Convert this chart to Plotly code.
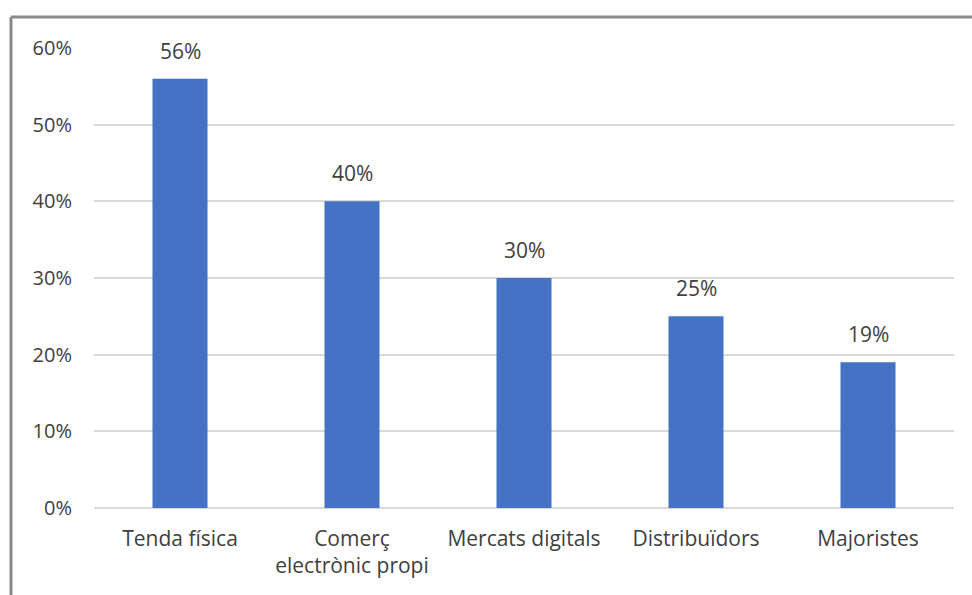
import plotly.graph_objects as go

categories = ["Tenda física", "Comerç<br>electrònic propi", "Mercats digitals", "Distribuïdors", "Majoristes"]
values = [0.56, 0.40, 0.30, 0.25, 0.19]
y_ticks = [0, 0.1, 0.2, 0.3, 0.4, 0.5, 0.6]
y_tick_labels = ["0%", "10%", "20%", "30%", "40%", "50%", "60%"]

FONT = "Open Sans"
TEXT = "#404040"

W, H = 972, 595
L, R, T, B = 94, 18, 48, 87
pw, ph = W - L - R, H - T - B

def px_x(x):
    return (x - L) / pw

def px_y(y):
    return 1 - (y - T) / ph

fig = go.Figure(
    go.Bar(
        x=categories,
        y=values,
        width=0.32,
        marker=dict(color="#4472C4", line=dict(width=0)),
    )
)

# value labels above each bar
for c, v in zip(categories, values):
    fig.add_annotation(
        x=c, y=v, text=f"{v:.0%}", showarrow=False,
        yanchor="bottom", yshift=12,
        font=dict(family=FONT, size=21, color=TEXT),
    )

# frame lines along the top and left edges
frame = dict(type="line", xref="paper", yref="paper", line=dict(color="#8a8a8a", width=3))
fig.add_shape(**frame, x0=px_x(11), y0=px_y(17), x1=px_x(980), y1=px_y(17))
fig.add_shape(**frame, x0=px_x(11), y0=px_y(17), x1=px_x(11), y1=px_y(600))

fig.update_layout(
    width=W,
    height=H,
    margin=dict(l=L, r=R, t=T, b=B),
    paper_bgcolor="white",
    plot_bgcolor="white",
    showlegend=False,
    font=dict(family=FONT, size=20, color=TEXT),
)
fig.update_xaxes(
    showline=False,
    showgrid=False,
    ticks="",
    tickfont=dict(family=FONT, size=21, color=TEXT),
    ticklabelstandoff=16,
)
fig.update_yaxes(
    range=[0, 0.6],
    tickvals=y_ticks,
    ticktext=y_tick_labels,
    showgrid=True,
    gridcolor="#d9d9d9",
    gridwidth=2,
    zeroline=True,
    zerolinecolor="#d9d9d9",
    zerolinewidth=2,
    showline=False,
    ticks="",
    tickfont=dict(family=FONT, size=20, color=TEXT),
    ticklabelstandoff=21,
)

fig.write_html("out.html")
